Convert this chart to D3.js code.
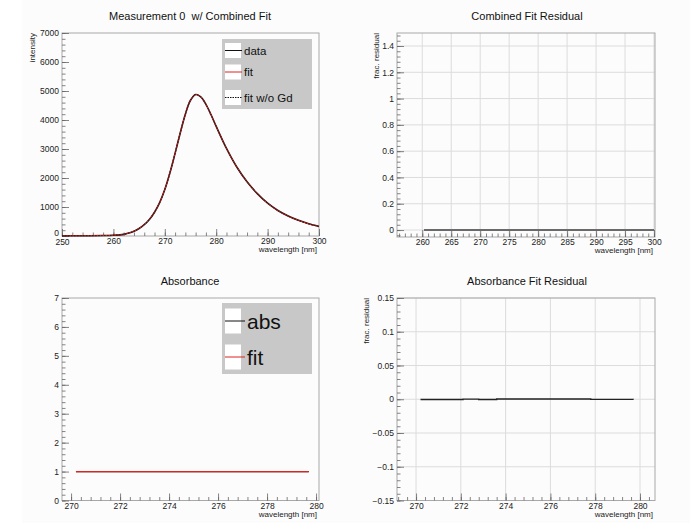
<!DOCTYPE html>
<html>
<head>
<meta charset="utf-8">
<script src="https://cdn.jsdelivr.net/npm/d3@7"></script>
<style>
  body { margin: 0; background: #fff; }
  svg { display: block; font-family: "Liberation Sans", Arial, sans-serif; }
  text { white-space: pre; }
</style>
</head>
<body>
<svg id="chart" width="690" height="523"></svg>
<script>
// spectrum (measurement 0)
var specWl   = [250, 254, 258, 260, 262, 263, 264, 265, 266, 267, 268, 269, 270, 271, 272, 273, 274, 275, 276, 277, 278, 279, 280, 282, 284, 286, 288, 290, 292, 294, 296, 298, 300]
var specData = [8, 10, 15, 25, 55, 100, 165, 260, 390, 570, 820, 1150, 1600, 2180, 2850, 3550, 4200, 4680, 4880, 4800, 4540, 4180, 3780, 3020, 2380, 1870, 1460, 1130, 880, 690, 540, 420, 330]
var specFit  = [8, 10, 15, 26, 56, 101, 166, 261, 392, 572, 822, 1152, 1602, 2182, 2852, 3552, 4202, 4682, 4878, 4798, 4538, 4178, 3778, 3018, 2378, 1868, 1458, 1128, 878, 688, 538, 418, 328]
var specNoGd = [8, 10, 15, 26, 56, 101, 166, 261, 392, 572, 822, 1152, 1602, 2182, 2852, 3552, 4202, 4682, 4878, 4798, 4538, 4178, 3778, 3018, 2378, 1868, 1458, 1128, 878, 688, 538, 418, 328]

// combined fit residual
var resWl1  = [260.3, 265, 270, 275, 280, 285, 290, 295, 300]
var resVal1 = [0, 0, 0, 0, 0, 0, 0, 0, 0]

// absorbance
var absWl  = [270.2, 272, 274, 276, 278, 279.7]
var absVal = [1, 1, 1, 1, 1, 1]
var absFit = [1, 1, 1, 1, 1, 1]

// absorbance fit residual
var resWl2  = [270.2, 272.1, 272.8, 273.6, 277.8, 279.7]
var resVal2 = [-0.0004, 0.0002, -0.0003, 0.0003, -0.0002, -0.0003]

// ticks
var p1xTicks = [250, 260, 270, 280, 290, 300]
var p1yTicks = [0, 1000, 2000, 3000, 4000, 5000, 6000, 7000]
var p2xTicks = [260, 265, 270, 275, 280, 285, 290, 295, 300]
var p2yTicks = [0, 0.2, 0.4, 0.6, 0.8, 1, 1.2, 1.4]
var p3xTicks = [270, 272, 274, 276, 278, 280]
var p3yTicks = [0, 1, 2, 3, 4, 5, 6, 7]
var p4xTicks = [270, 272, 274, 276, 278, 280]
var p4yTicks = [-0.15, -0.1, -0.05, 0, 0.05, 0.1, 0.15]

const svg = d3.select('#chart')
svg.append('rect').attr('x', 22).attr('y', 0).attr('width', 668).attr('height', 523).attr('fill', '#fcfcfc')

const RED = '#e0231f'
const minus = s => s.replace('-', '\u2212')

function panel(o){
  var x = d3.scaleLinear().domain(o.xd).range([o.l, o.r])
  var y = d3.scaleLinear().domain(o.yd).range([o.b, o.t])
  var g = svg.append('g')

  // grid
  if(o.grid){
    g.append('g').selectAll('line').data(o.xt).enter().append('line')
      .attr('x1', d => x(d)).attr('x2', d => x(d)).attr('y1', o.t).attr('y2', o.b)
      .attr('stroke', '#dcdcdc').attr('stroke-width', 1)
    g.append('g').selectAll('line').data(o.yt).enter().append('line')
      .attr('y1', d => y(d)).attr('y2', d => y(d)).attr('x1', o.l).attr('x2', o.r)
      .attr('stroke', '#dcdcdc').attr('stroke-width', 1)
  }

  g.append('rect').attr('x', o.l).attr('y', o.t).attr('width', o.r - o.l).attr('height', o.b - o.t)
    .attr('fill', 'none').attr('stroke', '#a8a8a8').attr('stroke-width', 1)

  // minor ticks
  var xs = (o.xt[1] - o.xt[0]) / 5, ys = (o.yt[1] - o.yt[0]) / 5
  var xMinor = d3.range(Math.ceil(o.xd[0] / xs - 1e-6) * xs, o.xd[1] + 1e-9, xs)
  var yMinor = d3.range(Math.ceil(o.yd[0] / ys - 1e-6) * ys, o.yd[1] + 1e-9, ys)

  g.append('g').attr('transform', `translate(0,${o.b})`)
    .call(d3.axisBottom(x).tickValues(xMinor).tickSize(-3.5).tickFormat(''))
    .call(a => a.select('.domain').remove())
  g.append('g').attr('transform', `translate(${o.l},0)`)
    .call(d3.axisLeft(y).tickValues(yMinor).tickSize(-3.5).tickFormat(''))
    .call(a => a.select('.domain').remove())

  var xa = g.append('g').attr('transform', `translate(0,${o.b})`)
    .call(d3.axisBottom(x).tickValues(o.xt).tickSize(-7).tickPadding(2).tickFormat(o.xf || d3.format('')))
    .call(a => a.select('.domain').remove())
  var ya = g.append('g').attr('transform', `translate(${o.l},0)`)
    .call(d3.axisLeft(y).tickValues(o.yt).tickSize(-7).tickPadding(3).tickFormat(d => minus(String(+d.toFixed(3)))))
    .call(a => a.select('.domain').remove())

  g.selectAll('.tick line').attr('stroke', '#666').attr('stroke-width', 0.8)
  g.selectAll('.tick text').attr('font-size', '8.5px').attr('fill', '#222')
    .attr('font-family', '"Liberation Sans", Arial, sans-serif')

  // the corner "0" sits just above the first x label, as in the original
  if(o.lift0){
    ya.selectAll('.tick').filter(d => d === o.yd[0]).select('text').attr('dy', '-0.05em')
    xa.selectAll('.tick').filter(d => d === o.xd[0]).select('text').attr('dy', '0.85em')
  }

  // titles
  svg.append('text').attr('x', o.tx).attr('y', o.ty).attr('text-anchor', 'middle')
    .attr('font-size', '11px').attr('fill', '#111').text(o.title)
  svg.append('text').attr('x', o.r - 2).attr('y', o.b + 16).attr('text-anchor', 'end')
    .attr('font-size', '8px').attr('fill', '#222').text('wavelength [nm]')
  if(o.ylab){
    svg.append('text').attr('transform', `translate(${o.ylx},${o.t}) rotate(-90)`)
      .attr('text-anchor', 'end').attr('font-size', '8px').attr('fill', '#222').text(o.ylab)
  }
  return {x: x, y: y, g: g}
}

function drawLine(p, xs, ys, color, width, dash, curve){
  var pts = xs.map((d, i) => [d, ys[i]])
  p.g.append('path').datum(pts)
    .attr('d', d3.line().x(d => p.x(d[0])).y(d => p.y(d[1])).curve(curve || d3.curveLinear))
    .attr('fill', 'none').attr('stroke', color).attr('stroke-width', width)
    .attr('stroke-dasharray', dash || null)
}

function legend(box, entries, fs, lineLen){
  var g = svg.append('g')
  g.append('rect').attr('x', box.x).attr('y', box.y).attr('width', box.w).attr('height', box.h).attr('fill', '#c8c8c8')
  entries.forEach(e => {
    g.append('rect').attr('x', box.x + 3).attr('y', e.y - e.bh / 2).attr('width', 16).attr('height', e.bh).attr('fill', '#fff')
    g.append('line').attr('x1', box.x + 3).attr('x2', box.x + 3 + lineLen).attr('y1', e.y).attr('y2', e.y)
      .attr('stroke', e.color).attr('stroke-width', 1).attr('stroke-dasharray', e.dash || null)
    g.append('text').attr('x', box.x + 5 + lineLen).attr('y', e.y + fs * 0.36).attr('font-size', fs + 'px')
      .attr('fill', '#111').text(e.label)
  })
}

// panel 1
var p1 = panel({l: 62, r: 319, t: 33, b: 236, xd: [250, 300], yd: [0, 7000], xt: p1xTicks, yt: p1yTicks,
  title: 'Measurement 0  w/ Combined Fit', tx: 190, ty: 20, ylab: 'intensity', ylx: 35, lift0: true})
drawLine(p1, specWl, specData, '#111', 1.6, null, d3.curveCatmullRom)
drawLine(p1, specWl, specFit, RED, 1, null, d3.curveCatmullRom)
drawLine(p1, specWl, specNoGd, '#111', 0.8, '1.5,1.5', d3.curveCatmullRom)
legend({x: 222, y: 39, w: 90, h: 70}, [
  {label: 'data', y: 50.5, bh: 15, color: '#111'},
  {label: 'fit', y: 72, bh: 15, color: RED},
  {label: 'fit w/o Gd', y: 97.5, bh: 15, color: '#111', dash: '1.5,1'}
], 11.5, 17)

// panel 2
var p2 = panel({l: 397, r: 655, t: 33, b: 237, xd: [255.64, 300.17], yd: [-0.053, 1.499], xt: p2xTicks, yt: p2yTicks,
  title: 'Combined Fit Residual', tx: 527, ty: 20, ylab: 'frac. residual', ylx: 379, grid: true})
drawLine(p2, resWl1, resVal1, '#6a6a6a', 2)

// panel 3
var p3 = panel({l: 62, r: 319, t: 298, b: 500.5, xd: [269.63, 280.12], yd: [0, 7], xt: p3xTicks, yt: p3yTicks,
  title: 'Absorbance', tx: 190, ty: 285})
drawLine(p3, absWl, absVal, '#111', 1.2)
drawLine(p3, absWl, absFit, RED, 1.2)
legend({x: 222, y: 303, w: 90, h: 71}, [
  {label: 'abs', y: 321, bh: 25, color: '#111'},
  {label: 'fit', y: 357, bh: 25, color: RED}
], 21, 20)

// panel 4
var p4 = panel({l: 397, r: 655, t: 298, b: 500.5, xd: [269.15, 280.67], yd: [-0.15, 0.15], xt: p4xTicks, yt: p4yTicks,
  title: 'Absorbance Fit Residual', tx: 527, ty: 285, ylab: 'frac. residual', ylx: 369, grid: true})
drawLine(p4, resWl2, resVal2, '#222', 1.4, null, d3.curveStepAfter)
</script>
</body>
</html>
